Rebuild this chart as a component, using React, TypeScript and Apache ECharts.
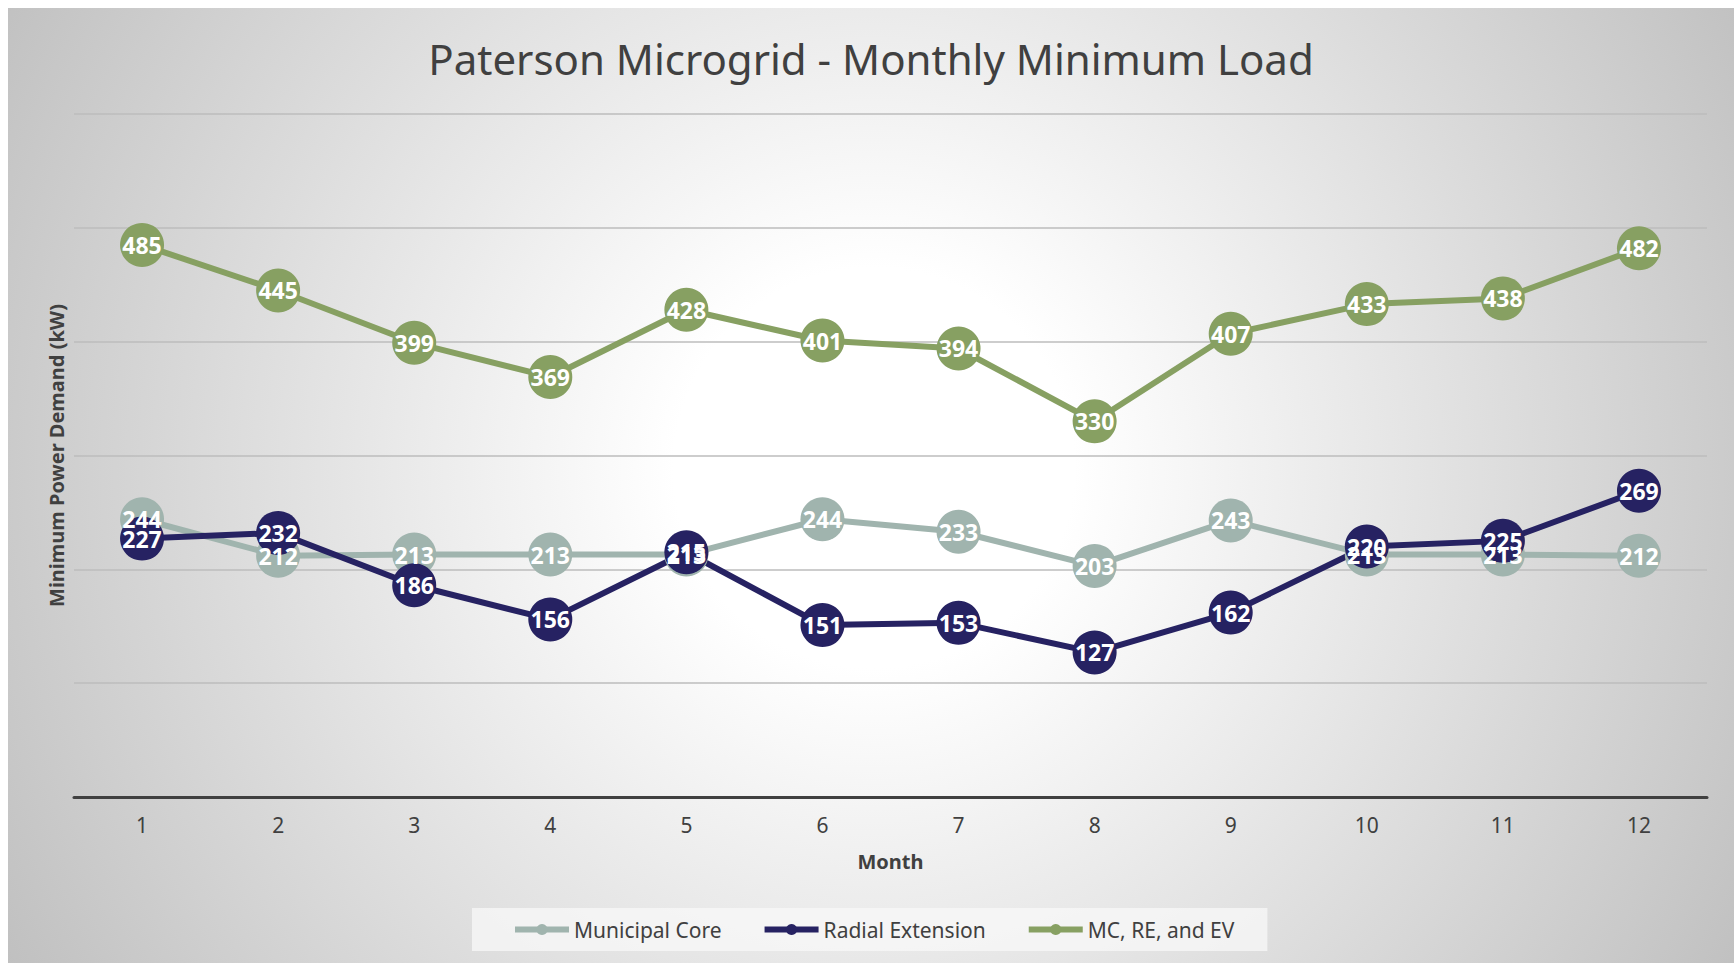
import React, { useEffect, useRef } from "react";
import * as echarts from "echarts";

const months = ["1", "2", "3", "4", "5", "6", "7", "8", "9", "10", "11", "12"];
const municipalCore = [244, 212, 213, 213, 213, 244, 233, 203, 243, 213, 213, 212];
const radialExtension = [227, 232, 186, 156, 215, 151, 153, 127, 162, 220, 225, 269];
const mcReEv = [485, 445, 399, 369, 428, 401, 394, 330, 407, 433, 438, 482];
const seriesNames = ["Municipal Core", "Radial Extension", "MC, RE, and EV"];
const seriesColors = ["#a0b4ae", "#262262", "#87a062"];

const W = 1726;
const H = 955;

export default function App() {
  const ref = useRef<HTMLDivElement>(null);
  useEffect(() => {
    if (!ref.current) return;
    const chart = echarts.init(ref.current, null, { renderer: "svg" });
    const font = "'Noto Sans', sans-serif";
    const mk = (name: string, data: number[], color: string) => ({
      name,
      type: "line",
      data,
      symbol: "circle",
      symbolSize: 44,
      lineStyle: { color, width: 6 },
      itemStyle: { color },
      label: {
        show: true,
        position: "inside",
        color: "#ffffff",
        fontSize: 23,
        fontWeight: "bold",
        fontFamily: font,
      },
    });
    chart.setOption({
      animation: false,
      graphic: [
        {
          type: "rect",
          z: -100,
          silent: true,
          shape: { x: 0, y: 0, width: W, height: H },
          style: {
            fill: new echarts.graphic.RadialGradient(
              866,
              460,
              1000,
              [
                { offset: 0, color: "#ffffff" },
                { offset: 0.2, color: "#ffffff" },
                { offset: 1, color: "#c0c0c0" },
              ],
              true
            ),
          },
        },
      ],
      title: {
        text: "Paterson Microgrid - Monthly Minimum Load",
        left: "center",
        top: 24,
        textStyle: {
          fontFamily: font,
          fontSize: 42,
          fontWeight: "normal",
          color: "#404040",
        },
      },
      legend: {
        data: seriesNames,
        left: 464,
        top: 900,
        padding: [11, 33, 11, 40],
        itemWidth: 54,
        itemHeight: 14,
        itemGap: 40,
        lineStyle: { width: 6 },
        backgroundColor: "rgba(248,248,248,0.75)",
        textStyle: { fontFamily: font, fontSize: 21, color: "#404040" },
      },
      grid: { left: 66, right: 27, top: 106, bottom: 166 },
      xAxis: {
        type: "category",
        data: months,
        boundaryGap: true,
        name: "Month",
        nameLocation: "middle",
        nameGap: 54,
        nameTextStyle: { fontFamily: font, fontSize: 20, fontWeight: "bold", color: "#404040" },
        axisLine: { lineStyle: { color: "#404040", width: 3 } },
        axisTick: { show: false },
        axisLabel: { fontFamily: font, fontSize: 21, color: "#404040", margin: 17 },
      },
      yAxis: {
        type: "value",
        min: 0,
        max: 600,
        interval: 100,
        name: "Minimum Power Demand (kW)",
        nameLocation: "middle",
        nameGap: 8,
        nameTextStyle: { fontFamily: font, fontSize: 20, fontWeight: "bold", color: "#404040" },
        axisLine: { show: false },
        axisTick: { show: false },
        axisLabel: { show: false },
        splitLine: { lineStyle: { color: "#bcbcbc", width: 1.5 } },
      },
      series: [
        mk(seriesNames[0], municipalCore, seriesColors[0]),
        mk(seriesNames[1], radialExtension, seriesColors[1]),
        mk(seriesNames[2], mcReEv, seriesColors[2]),
      ],
    });
    return () => chart.dispose();
  }, []);
  return (
    <div
      ref={ref}
      style={{ position: "absolute", left: 8, top: 8, width: W, height: H }}
    />
  );
}
